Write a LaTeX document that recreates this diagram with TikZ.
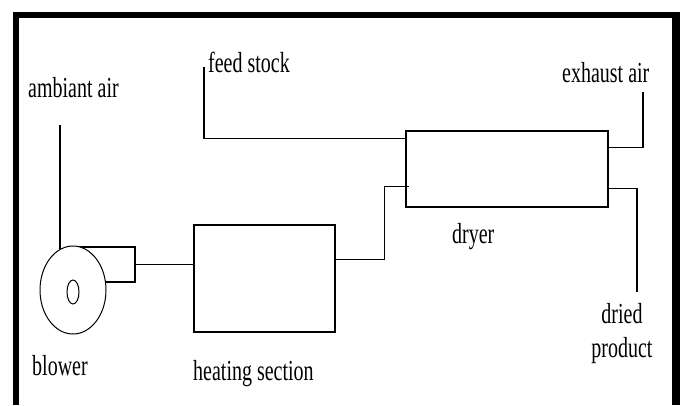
\documentclass[tikz,border=0pt]{standalone}
\usepackage{fontspec}
\setmainfont{Liberation Serif}
\usetikzlibrary{
  positioning,
  calc,
  shapes.geometric
}
\tikzset{
  unitbox/.style={draw,line width=1.2pt,inner sep=0pt},
  fanbody/.style={draw,ellipse,line width=1pt,fill=white,inner sep=0pt},
  pipe/.style={line width=1.6pt},
  thinpipe/.style={line width=1.2pt},
  tag/.style={inner sep=0pt,font=\fontsize{20}{24}\selectfont},
  rim/.style={line width=6pt}
}
\newcommand{\tall}[1]{\scalebox{1}[1.45]{#1}}

\begin{document}
\begin{tikzpicture}[x=1pt,y=-1pt]
\useasboundingbox (0,0) rectangle (683,405);
\draw[rim] (16,405) -- (16,15) -- (677,15);
\draw[rim,line width=8pt] (676,12) -- (676,405);
\node[unitbox,minimum width=202pt,minimum height=76pt] (dryer) at (507,169) {};
\node[unitbox,minimum width=141pt,minimum height=107pt] (heater) at (264.5,278.5) {};
\node[unitbox,minimum width=62pt,minimum height=35pt] (duct) at (104,264.5) {};
\node[fanbody,minimum width=66pt,minimum height=88pt] (blower) at (73,290) {};
\node[draw,ellipse,line width=1pt,inner sep=0pt,minimum width=12pt,minimum height=24pt] (eye) at (73,292) {};
\node[tag,anchor=base west] (ambient) at (28,97) {\tall{ambiant air}};
\node[tag,anchor=base west] (feed) at (208,72) {\tall{feed stock}};
\node[tag,anchor=base west] (exhaust) at (562,82) {\tall{exhaust air}};
\node[tag,anchor=base west] (dryerlbl) at (452,243) {\tall{dryer}};
\node[tag,anchor=base west] (blowerlbl) at (32,375) {\tall{blower}};
\node[tag,anchor=base west] (heaterlbl) at (193,380) {\tall{heating section}};
\node[tag,anchor=base] (product) at (622,323) {\tall{\begin{tabular}[t]{@{}c@{}}dried\\product\end{tabular}}};
\coordinate (ambin) at (60,125);
\coordinate (feedin) at (204,67);
\coordinate (exout) at (643,92);
\coordinate (prodout) at (637,292);
\coordinate (dryin) at ($(dryer.south west)+(4,-21)$);
\draw[thinpipe] (ambin) -- (ambin |- blower.108);
\draw[pipe] (feedin) |- ($(dryer.north west)+(0,8)$);
\draw[pipe] ($(dryer.north east)+(0,17)$) -| (exout);
\draw[pipe] ($(dryer.south east)+(0,-19)$) -| (prodout);
\draw[pipe] (duct.east) -- (duct.east -| heater.west);
\draw[pipe] ($(heater.north east)+(0,35)$) -| ($(dryin)+(-25,0)$) -- (dryin);
\end{tikzpicture}
\end{document}
